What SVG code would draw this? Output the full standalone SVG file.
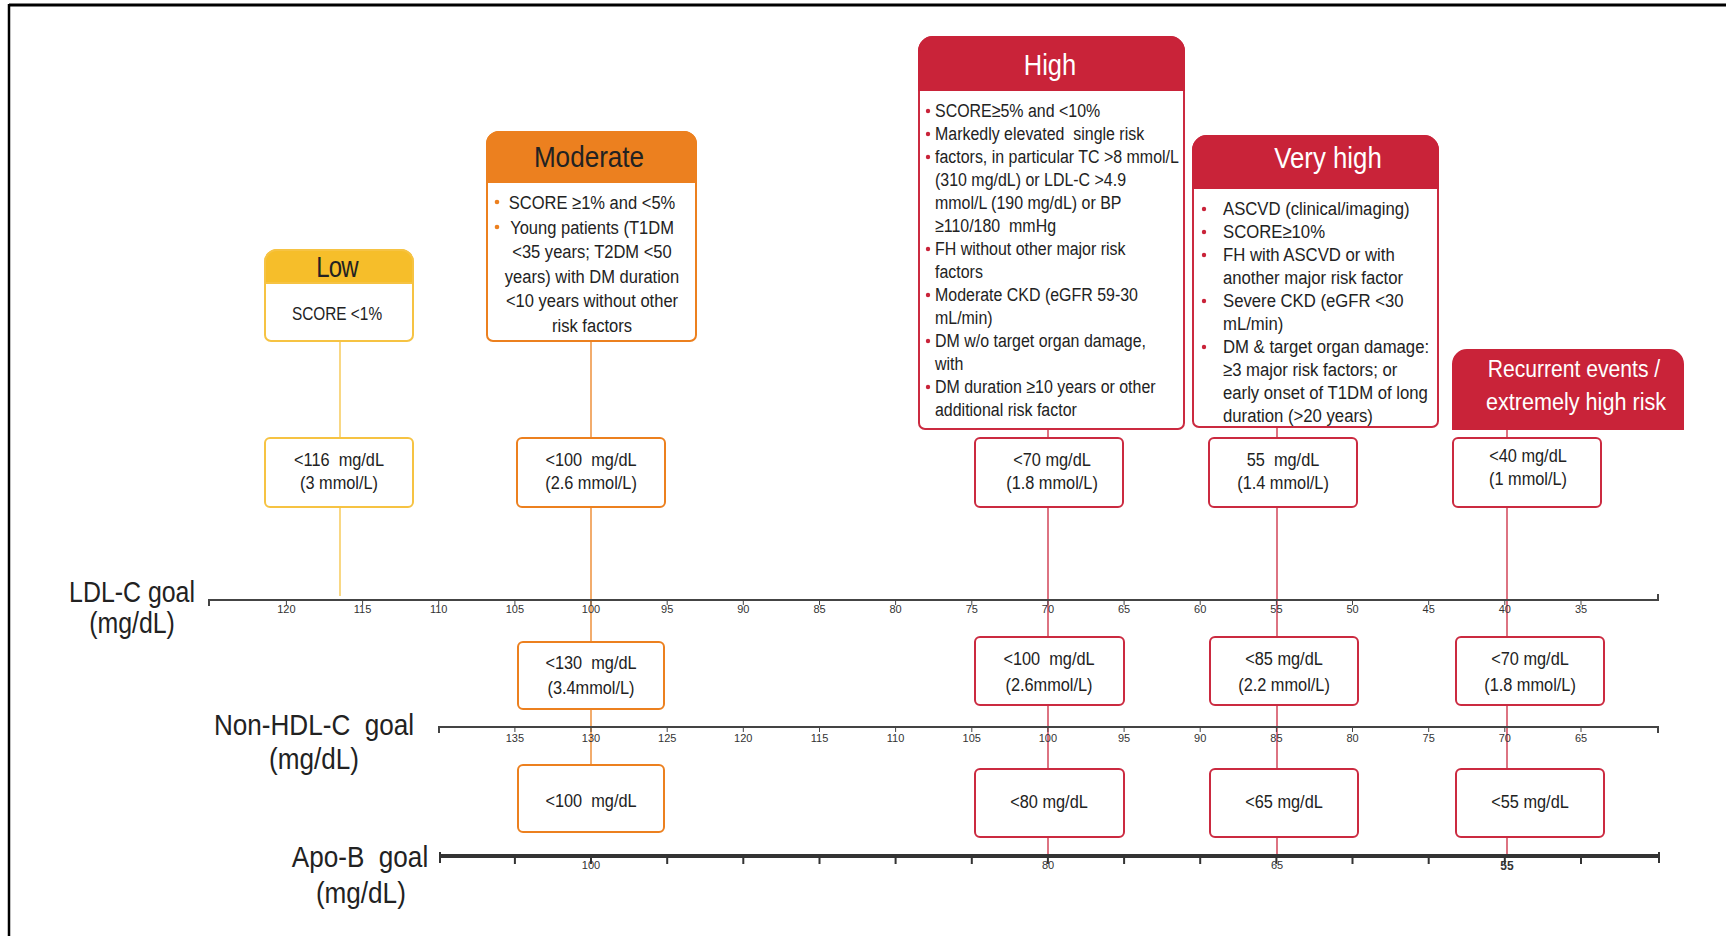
<svg xmlns="http://www.w3.org/2000/svg" width="1726" height="936" viewBox="0 0 1726 936">
<style>
.t{font-family:"Liberation Sans Narrow","Liberation Sans",Arial,sans-serif;fill:#222}
.hd{font-size:30px;text-anchor:middle}
.b{font-size:19px}
.v{font-size:19px;text-anchor:middle}
.ax{font-size:30px;text-anchor:middle}
.tk{font-size:11px;text-anchor:middle;fill:#333}
.c{text-anchor:middle}
.wt{fill:#fff}
.yl{stroke:#F6C343;fill:#fff;stroke-width:2}
.or{stroke:#EC801F;fill:#fff;stroke-width:2}
.rd{stroke:#CB2A40;fill:#fff;stroke-width:2}
.cy{stroke:#F6C343;stroke-width:1.3;fill:none}
.co{stroke:#EC801F;stroke-width:1.3;fill:none}
.cr{stroke:#CB2A40;stroke-width:1.3;fill:none}
.axis{stroke:#444;stroke-width:2;fill:none}
.tick{stroke:#444;stroke-width:1;fill:none}
</style>
<rect width="1726" height="936" fill="#fff"/>
<line x1="9" y1="5" x2="1726" y2="5" stroke="#000" stroke-width="3"/>
<line x1="9" y1="4" x2="9" y2="936" stroke="#000" stroke-width="2.5"/>

<g id="connectors">
<path class="cy" d="M340 341V438M340 507V596"/>
<path class="co" d="M591 341V438M591 507V642M591 709V765"/>
<path class="cr" d="M1048 429V438M1048 507V637M1048 705V769M1048 837V856"/>
<path class="cr" d="M1277 427V438M1277 507V637M1277 705V769M1277 837V856"/>
<path class="cr" d="M1507 429V438M1507 507V637M1507 705V769M1507 837V856"/>
</g>

<g id="low">
<path class="yl" d="M265 262A12 12 0 0 1 277 250H401A12 12 0 0 1 413 262V335A6 6 0 0 1 407 341H271A6 6 0 0 1 265 335Z"/>
<path fill="#F6BE2A" stroke="#F6C343" stroke-width="2" d="M265 283V262A12 12 0 0 1 277 250H401A12 12 0 0 1 413 262V283Z"/>
<text class="t hd" transform="translate(337 277) scale(.8 1)" letter-spacing="-1">Low</text>
<text class="t b c" transform="translate(337 320) scale(.81 1)">SCORE &lt;1%</text>
</g>

<g id="moderate">
<path class="or" d="M487 144A12 12 0 0 1 499 132H684A12 12 0 0 1 696 144V335A6 6 0 0 1 690 341H493A6 6 0 0 1 487 335Z"/>
<path fill="#EC801F" stroke="#EC801F" stroke-width="2" d="M487 182V144A12 12 0 0 1 499 132H684A12 12 0 0 1 696 144V182Z"/>
<text class="t hd" transform="translate(589 167) scale(.87 1)">Moderate</text>
<g class="t b c" transform="translate(592 0) scale(.87 1)">
<text x="0" y="209">SCORE ≥1% and &lt;5%</text>
<text x="0" y="234">Young patients (T1DM</text>
<text x="0" y="258">&lt;35 years; T2DM &lt;50</text>
<text x="0" y="283">years) with DM duration</text>
<text x="0" y="307">&lt;10 years without other</text>
<text x="0" y="332">risk factors</text>
</g>
<circle cx="497" cy="202" r="2.3" fill="#EC801F"/>
<circle cx="497" cy="227" r="2.3" fill="#EC801F"/>
</g>

<g id="high">
<path class="rd" d="M919 51A14 14 0 0 1 933 37H1170A14 14 0 0 1 1184 51V423A6 6 0 0 1 1178 429H925A6 6 0 0 1 919 423Z"/>
<path fill="#C92339" stroke="#C92339" stroke-width="2" d="M919 90V51A14 14 0 0 1 933 37H1170A14 14 0 0 1 1184 51V90Z"/>
<text class="t hd wt" transform="translate(1050 75) scale(.85 1)" font-size="28">High</text>
<g class="t b" font-size="19" transform="translate(935 0) scale(.84 1)">
<text x="0" y="117">SCORE≥5% and &lt;10%</text>
<text x="0" y="140" xml:space="preserve">Markedly elevated  single risk</text>
<text x="0" y="163">factors, in particular TC &gt;8 mmol/L</text>
<text x="0" y="186">(310 mg/dL) or LDL-C &gt;4.9</text>
<text x="0" y="209">mmol/L (190 mg/dL) or BP</text>
<text x="0" y="232" xml:space="preserve">≥110/180  mmHg</text>
<text x="0" y="255">FH without other major risk</text>
<text x="0" y="278">factors</text>
<text x="0" y="301">Moderate CKD (eGFR 59-30</text>
<text x="0" y="324">mL/min)</text>
<text x="0" y="347">DM w/o target organ damage,</text>
<text x="0" y="370">with</text>
<text x="0" y="393">DM duration ≥10 years or other</text>
<text x="0" y="416">additional risk factor</text>
</g>
<g fill="#C92339">
<circle cx="928" cy="111" r="2.2"/><circle cx="928" cy="134" r="2.2"/><circle cx="928" cy="157" r="2.2"/>
<circle cx="928" cy="249" r="2.2"/><circle cx="928" cy="295" r="2.2"/><circle cx="928" cy="341" r="2.2"/><circle cx="928" cy="387" r="2.2"/>
</g>
</g>

<g id="very-high">
<path class="rd" d="M1193 150A14 14 0 0 1 1207 136H1424A14 14 0 0 1 1438 150V421A6 6 0 0 1 1432 427H1199A6 6 0 0 1 1193 421Z"/>
<path fill="#C92339" stroke="#C92339" stroke-width="2" d="M1193 188V150A14 14 0 0 1 1207 136H1424A14 14 0 0 1 1438 150V188Z"/>
<text class="t hd wt" transform="translate(1328 168) scale(.86 1)" font-size="29">Very high</text>
<g class="t b" font-size="19" transform="translate(1223 0) scale(.88 1)">
<text x="0" y="215">ASCVD (clinical/imaging)</text>
<text x="0" y="238">SCORE≥10%</text>
<text x="0" y="261">FH with ASCVD or with</text>
<text x="0" y="284">another major risk factor</text>
<text x="0" y="307">Severe CKD (eGFR &lt;30</text>
<text x="0" y="330">mL/min)</text>
<text x="0" y="353">DM &amp; target organ damage:</text>
<text x="0" y="376">≥3 major risk factors; or</text>
<text x="0" y="399">early onset of T1DM of long</text>
<text x="0" y="422">duration (&gt;20 years)</text>
</g>
<g fill="#C92339">
<circle cx="1204" cy="209" r="2.2"/><circle cx="1204" cy="232" r="2.2"/><circle cx="1204" cy="255" r="2.2"/>
<circle cx="1204" cy="301" r="2.2"/><circle cx="1204" cy="347" r="2.2"/>
</g>
</g>

<g id="recurrent">
<path fill="#C92339" stroke="#C92339" stroke-width="2" d="M1453 429V364A14 14 0 0 1 1467 350H1669A14 14 0 0 1 1683 364V429Z"/>
<text class="t c wt" transform="translate(1574 377) scale(.88 1)" font-size="24">Recurrent events /</text>
<text class="t c wt" transform="translate(1576 410) scale(.9 1)" font-size="24">extremely high risk</text>
</g>

<g id="ldl-low"><rect class="yl" x="265" y="438" width="148" height="69" rx="5"/>
<g class="t v" transform="translate(339 0) scale(.86 1)"><text x="0" y="466" xml:space="preserve">&lt;116  mg/dL</text><text x="0" y="489">(3 mmol/L)</text></g></g>
<g id="ldl-moderate"><rect class="or" x="517" y="438" width="148" height="69" rx="5"/>
<g class="t v" transform="translate(591 0) scale(.86 1)"><text x="0" y="466" xml:space="preserve">&lt;100  mg/dL</text><text x="0" y="489">(2.6 mmol/L)</text></g></g>
<g id="ldl-high"><rect class="rd" x="975" y="438" width="148" height="69" rx="5"/>
<g class="t v" transform="translate(1052 0) scale(.86 1)"><text x="0" y="466">&lt;70 mg/dL</text><text x="0" y="489">(1.8 mmol/L)</text></g></g>
<g id="ldl-veryhigh"><rect class="rd" x="1209" y="438" width="148" height="69" rx="5"/>
<g class="t v" transform="translate(1283 0) scale(.86 1)"><text x="0" y="466" xml:space="preserve">55  mg/dL</text><text x="0" y="489">(1.4 mmol/L)</text></g></g>
<g id="ldl-recurrent"><rect class="rd" x="1453" y="438" width="148" height="69" rx="5"/>
<g class="t v" transform="translate(1528 0) scale(.86 1)"><text x="0" y="462">&lt;40 mg/dL</text><text x="0" y="485">(1 mmol/L)</text></g></g>

<g id="nhdl-moderate"><rect class="or" x="518" y="642" width="146" height="67" rx="5"/>
<g class="t v" transform="translate(591 0) scale(.86 1)"><text x="0" y="669" xml:space="preserve">&lt;130  mg/dL</text><text x="0" y="694">(3.4mmol/L)</text></g></g>
<g id="nhdl-high"><rect class="rd" x="975" y="637" width="149" height="68" rx="5"/>
<g class="t v" transform="translate(1049 0) scale(.86 1)"><text x="0" y="665" xml:space="preserve">&lt;100  mg/dL</text><text x="0" y="691">(2.6mmol/L)</text></g></g>
<g id="nhdl-veryhigh"><rect class="rd" x="1210" y="637" width="148" height="68" rx="5"/>
<g class="t v" transform="translate(1284 0) scale(.86 1)"><text x="0" y="665">&lt;85 mg/dL</text><text x="0" y="691">(2.2 mmol/L)</text></g></g>
<g id="nhdl-recurrent"><rect class="rd" x="1456" y="637" width="148" height="68" rx="5"/>
<g class="t v" transform="translate(1530 0) scale(.86 1)"><text x="0" y="665">&lt;70 mg/dL</text><text x="0" y="691">(1.8 mmol/L)</text></g></g>

<g id="apob-moderate"><rect class="or" x="518" y="765" width="146" height="67" rx="5"/>
<g class="t v" transform="translate(591 0) scale(.86 1)"><text x="0" y="807" xml:space="preserve">&lt;100  mg/dL</text></g></g>
<g id="apob-high"><rect class="rd" x="975" y="769" width="149" height="68" rx="5"/>
<g class="t v" transform="translate(1049 0) scale(.86 1)"><text x="0" y="808">&lt;80 mg/dL</text></g></g>
<g id="apob-veryhigh"><rect class="rd" x="1210" y="769" width="148" height="68" rx="5"/>
<g class="t v" transform="translate(1284 0) scale(.86 1)"><text x="0" y="808">&lt;65 mg/dL</text></g></g>
<g id="apob-recurrent"><rect class="rd" x="1456" y="769" width="148" height="68" rx="5"/>
<g class="t v" transform="translate(1530 0) scale(.86 1)"><text x="0" y="808">&lt;55 mg/dL</text></g></g>

<g id="ldl-axis">
<g class="t ax" transform="translate(132 0) scale(.83 1)"><text x="0" y="602">LDL-C goal</text><text x="0" y="633">(mg/dL)</text></g>
<path class="axis" d="M209 606V600H1658V594"/>
<path class="tick" d="M286.4 600v5M362.6 600v5M438.7 600v5M514.9 600v5M591 600v5M667.2 600v5M743.3 600v5M819.5 600v5M895.6 600v5M971.8 600v5M1047.9 600v5M1124.1 600v5M1200.2 600v5M1276.4 600v5M1352.5 600v5M1428.7 600v5M1504.8 600v5M1581 600v5"/>
<g class="t tk">
<text x="286.4" y="613">120</text><text x="362.6" y="613">115</text><text x="438.7" y="613">110</text><text x="514.9" y="613">105</text><text x="591" y="613">100</text><text x="667.2" y="613">95</text><text x="743.3" y="613">90</text><text x="819.5" y="613">85</text><text x="895.6" y="613">80</text><text x="971.8" y="613">75</text><text x="1047.9" y="613">70</text><text x="1124.1" y="613">65</text><text x="1200.2" y="613">60</text><text x="1276.4" y="613">55</text><text x="1352.5" y="613">50</text><text x="1428.7" y="613">45</text><text x="1504.8" y="613">40</text><text x="1581" y="613">35</text>
</g>
</g>

<g id="nhdl-axis">
<g class="t ax" transform="translate(314 0) scale(.87 1)"><text x="0" y="735" xml:space="preserve">Non-HDL-C  goal</text><text x="0" y="769">(mg/dL)</text></g>
<path class="axis" d="M439 733V727H1658V733" stroke-width="1.5"/>
<path class="tick" d="M514.9 727v5M591 727v5M667.2 727v5M743.3 727v5M819.5 727v5M895.6 727v5M971.8 727v5M1047.9 727v5M1124.1 727v5M1200.2 727v5M1276.4 727v5M1352.5 727v5M1428.7 727v5M1504.8 727v5M1581 727v5"/>
<g class="t tk">
<text x="514.9" y="742">135</text><text x="591" y="742">130</text><text x="667.2" y="742">125</text><text x="743.3" y="742">120</text><text x="819.5" y="742">115</text><text x="895.6" y="742">110</text><text x="971.8" y="742">105</text><text x="1047.9" y="742">100</text><text x="1124.1" y="742">95</text><text x="1200.2" y="742">90</text><text x="1276.4" y="742">85</text><text x="1352.5" y="742">80</text><text x="1428.7" y="742">75</text><text x="1504.8" y="742">70</text><text x="1581" y="742">65</text>
</g>
</g>

<g id="apob-axis">
<g class="t ax" transform="translate(360 0) scale(.87 1)"><text x="0" y="867" xml:space="preserve">Apo-B  goal</text><text x="1" y="903">(mg/dL)</text></g>
<path d="M439 856H1660" stroke="#333" stroke-width="4"/>
<path stroke="#333" stroke-width="2" d="M440 852v11M514.9 856v8M591 856v8M667.2 856v8M743.3 856v8M819.5 856v8M895.6 856v8M971.8 856v8M1047.9 856v8M1124.1 856v8M1200.2 856v8M1276.4 856v8M1352.5 856v8M1428.7 856v8M1504.8 856v8M1581 856v8M1659 852v11"/>
<g class="t tk">
<text x="591" y="869">100</text><text x="1048" y="869">80</text><text x="1277" y="869">65</text><text x="1507" y="870" font-weight="bold" font-size="12">55</text>
</g>
</g>
</svg>
